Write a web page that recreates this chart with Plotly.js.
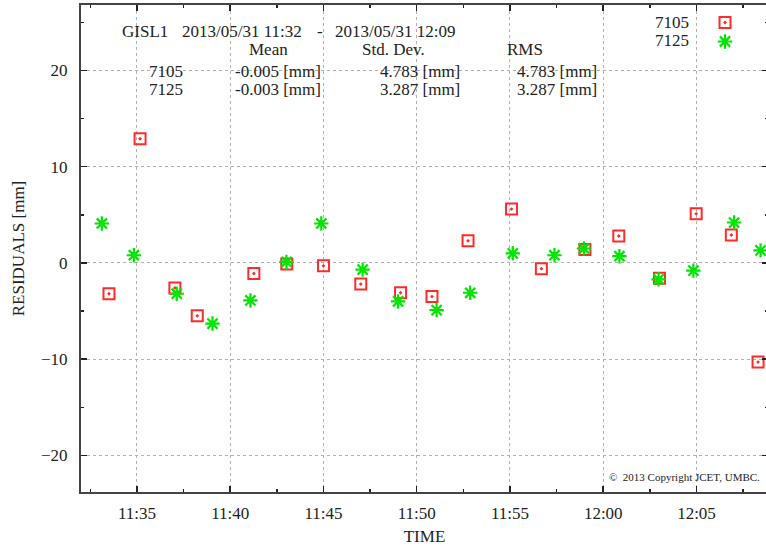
<!DOCTYPE html>
<html>
<head>
<meta charset="utf-8">
<script src="https://cdn.plot.ly/plotly-3.0.1.min.js"></script>
<style>html,body{margin:0;padding:0;overflow:hidden;background:#fff;}</style>
</head>
<body>
<div id="chart" style="width:768px;height:546px;"></div>
<script>
// Data
const day = '2013-05-31 ';
const times7105 = ['11:33:30','11:35:10','11:37:02','11:38:14','11:41:16','11:43:02','11:45:00','11:47:00','11:49:08','11:50:49','11:52:45','11:55:05','11:56:41','11:59:01','12:00:50','12:03:01','12:04:59','12:06:52','12:08:18'];
const resid7105 = [-3.2, 12.9, -2.6, -5.5, -1.1, -0.1, -0.3, -2.2, -3.1, -3.5, 2.3, 5.6, -0.6, 1.4, 2.8, -1.6, 5.1, 2.9, -10.3];
const times7125 = ['11:33:07','11:34:50','11:37:08','11:39:03','11:41:05','11:43:01','11:44:53','11:47:06','11:49:00','11:51:04','11:52:52','11:55:09','11:57:23','11:58:58','12:00:52','12:02:58','12:04:50','12:07:01','12:08:26'];
const resid7125 = [4.1, 0.8, -3.2, -6.3, -3.9, 0.1, 4.1, -0.7, -4.0, -4.9, -3.1, 1.0, 0.8, 1.5, 0.7, -1.7, -0.8, 4.2, 1.3];
const xTickVals = ['11:35','11:40','11:45','11:50','11:55','12:00','12:05'];
const yTickVals = [-20, -10, 0, 10, 20];
const statRows = [
  {station: '7105', mean: '-0.005 [mm]', std: '4.783 [mm]', rms: '4.783 [mm]'},
  {station: '7125', mean: '-0.003 [mm]', std: '3.287 [mm]', rms: '3.287 [mm]'}
];

const serif = 'Liberation Serif, Times New Roman, serif';
const W = 768, H = 546, L = 81, T = 5, B = 54, R = 0;
const pw = W - L - R, ph = H - T - B;
const px = v => (v - L) / pw;
const py = v => (H - B - v) / ph;

const traces = [
  {
    x: times7105.map(t => day + t), y: resid7105, name: '', type: 'scatter', mode: 'markers',
    marker: {symbol: 'square-open-dot', size: 11, color: '#ff2a2a', line: {width: 2, color: '#ff2a2a'}},
    hovertemplate: '7105: %{y} mm<extra></extra>'
  },
  {
    x: times7125.map(t => day + t), y: resid7125, name: '', type: 'scatter', mode: 'markers',
    marker: {symbol: 'asterisk-open', size: 12, color: '#00e600', line: {width: 2.2, color: '#00e600'}},
    hovertemplate: '7125: %{y} mm<extra></extra>'
  }
];

const ann = [];
function txt(text, x, y, anchor, size) {
  ann.push({text: text, xref: 'paper', yref: 'paper', x: px(x), y: py(y), xanchor: anchor || 'left', yanchor: 'middle',
    showarrow: false, font: {family: serif, size: size || 17, color: '#222'}});
}
txt('GISL1', 120, 31);
txt('2013/05/31 11:32', 180, 31);
txt('-', 320, 31, 'center');
txt('2013/05/31 12:09', 333, 31);
txt('Mean', 268, 50, 'center');
txt('Std. Dev.', 393, 50, 'center');
txt('RMS', 525, 50, 'center');
statRows.forEach((r, i) => {
  const yy = 71 + i * 18.5;
  txt(r.station, 166, yy, 'center');
  txt(r.mean, 233, yy);
  txt(r.std, 378, yy);
  txt(r.rms, 515, yy);
});
txt('7105', 691, 22, 'right');
txt('7125', 691, 40, 'right');
txt('\u00a9  2013 Copyright JCET, UMBC.', 762, 477, 'right', 11);

const axisCommon = {
  showline: true, linecolor: '#444', linewidth: 2, mirror: 'ticks',
  ticks: 'inside', ticklen: 6, tickwidth: 1.5, tickcolor: '#222',
  showgrid: true, gridcolor: '#b0b0b0', gridwidth: 1, griddash: 'dot',
  zeroline: false, tickfont: {family: serif, size: 17, color: '#222'}
};

const layout = {
  width: W, height: H,
  margin: {l: L, r: R, t: T, b: B, pad: 0},
  paper_bgcolor: '#fff', plot_bgcolor: '#fff',
  showlegend: true,
  legend: {x: px(705), y: py(8), xanchor: 'left', yanchor: 'top', bgcolor: 'rgba(0,0,0,0)',
    font: {family: serif, size: 9}, tracegroupgap: 0, itemwidth: 30},
  xaxis: Object.assign({}, axisCommon, {
    type: 'date',
    range: [day + '11:32:00', day + '12:08:50'],
    tickvals: xTickVals.map(t => day + t), ticktext: xTickVals,
    minor: {dtick: 150000, ticks: 'inside', ticklen: 3, tickwidth: 1.5, tickcolor: '#222', showgrid: false},
    ticklabelstandoff: 5,
    title: {text: 'TIME', font: {family: serif, size: 17, color: '#222'}, standoff: 8}
  }),
  yaxis: Object.assign({}, axisCommon, {
    range: [-23.8, 26.8],
    tickvals: yTickVals,
    minor: {dtick: 5, ticks: 'inside', ticklen: 3, tickwidth: 1.5, tickcolor: '#222', showgrid: false},
    ticklabelstandoff: 8,
    title: {text: 'RESIDUALS [mm]', font: {family: serif, size: 17, color: '#222'}, standoff: 12}
  }),
  annotations: ann
};

Plotly.newPlot('chart', traces, layout, {displayModeBar: false, staticPlot: true});
</script>
</body>
</html>
